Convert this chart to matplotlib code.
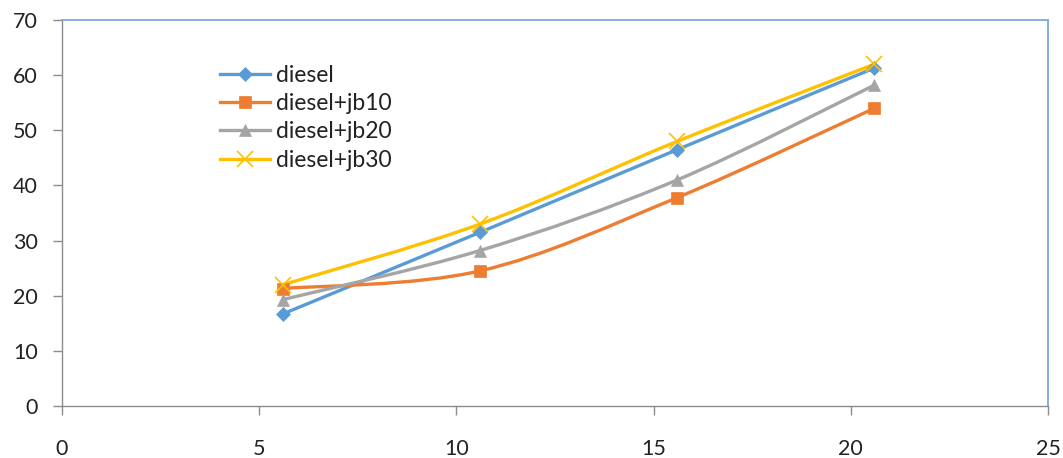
import numpy as np
import matplotlib
matplotlib.use("Agg")
import matplotlib.pyplot as plt
from matplotlib.path import Path
from matplotlib.patches import PathPatch
from matplotlib.lines import Line2D

x_vals = [5.6, 10.6, 15.6, 20.6]
diesel = [16.7, 31.5, 46.5, 61.3]
diesel_jb10 = [21.3, 24.5, 37.8, 54.0]
diesel_jb20 = [19.3, 28.2, 41.0, 58.2]
diesel_jb30 = [22.0, 33.0, 48.0, 62.0]

labels = ["diesel", "diesel+jb10", "diesel+jb20", "diesel+jb30"]
colors = ["#5B9BD5", "#ED7D31", "#A5A5A5", "#FFC000"]
markers = ["D", "s", "^", "x"]
msizes = [7, 9, 9, 11]

plt.rcParams["font.family"] = ["Lato", "DejaVu Sans"]


def smooth_path(xs, ys):
    # cubic bezier through the points, excel-style smoothing
    pts = np.column_stack([xs, ys]).astype(float)
    n = len(pts)
    verts = [pts[0]]
    codes = [Path.MOVETO]
    for i in range(n - 1):
        p0 = pts[i - 1] if i > 0 else pts[i]
        p1 = pts[i]
        p2 = pts[i + 1]
        p3 = pts[i + 2] if i + 2 < n else pts[i + 1]
        c1 = p1 + (p2 - p0) / 6.0
        c2 = p2 - (p3 - p1) / 6.0
        verts += [c1, c2, p2]
        codes += [Path.CURVE4] * 3
    return Path(verts, codes)


fig = plt.figure(figsize=(10.63, 4.58), dpi=100)
ax = fig.add_axes([0.0583, 0.1135, 0.9276, 0.8428])

series = [diesel, diesel_jb10, diesel_jb20, diesel_jb30]
handles = []
for ys, lab, c, m, ms in zip(series, labels, colors, markers, msizes):
    ax.add_patch(PathPatch(smooth_path(x_vals, ys), facecolor="none",
                           edgecolor=c, lw=2.4, capstyle="round", zorder=2))
    ax.plot(x_vals, ys, linestyle="none", marker=m, color=c, ms=ms,
            mew=1.2 if m == "x" else 0.5, zorder=3)
    handles.append(Line2D([], [], color=c, lw=2.4, marker=m, ms=ms,
                          mew=1.2 if m == "x" else 0.5, label=lab))

ax.set_xlim(0, 25)
ax.set_ylim(0, 70)
ax.set_xticks(np.arange(0, 26, 5))
ax.set_yticks(np.arange(0, 71, 10))

for s in ["left", "bottom"]:
    ax.spines[s].set_color("#8C8C8C")
    ax.spines[s].set_linewidth(1.0)
for s in ["top", "right"]:
    ax.spines[s].set_color("#7FA6DB")
    ax.spines[s].set_linewidth(1.3)

ax.tick_params(axis="both", direction="out", length=6.5, width=1.0,
               color="#8C8C8C", labelsize=15.5, labelcolor="#222222")
ax.tick_params(axis="x", pad=17, top=False)
ax.tick_params(axis="y", pad=11, right=False)

leg = ax.legend(handles=handles, loc="upper left",
                bbox_to_anchor=(0.1505, 0.908), frameon=False,
                fontsize=16.5, handlelength=2.2, handletextpad=0.25,
                labelspacing=0.32, borderaxespad=0)
for t in leg.get_texts():
    t.set_color("#222222")

fig.savefig("out.png", dpi=100)
